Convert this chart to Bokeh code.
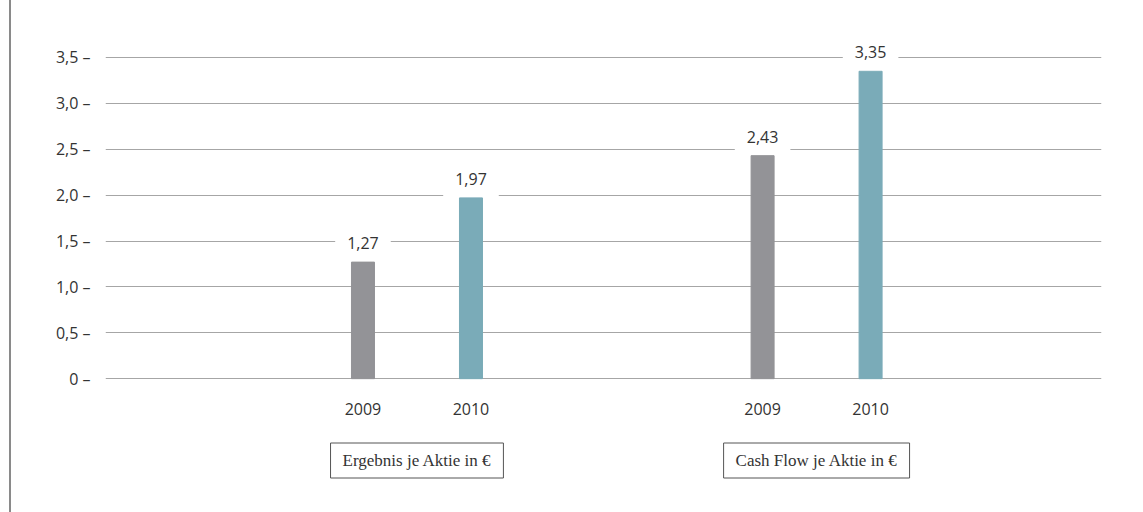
from bokeh.plotting import figure
from bokeh.models import ColumnDataSource, Range1d, FixedTicker, Label, Div
from bokeh.layouts import row, column
from bokeh.embed import file_html
from bokeh.resources import INLINE
from bokeh.core.properties import value

# ---- data ----
groups = ["Ergebnis je Aktie in €", "Cash Flow je Aktie in €"]
years = ["2009", "2010"]
ergebnis = [1.27, 1.97]
cash_flow = [2.43, 3.35]
ergebnis_labels = ["1,27", "1,97"]
cash_flow_labels = ["2,43", "3,35"]
y_ticks = [0, 0.5, 1.0, 1.5, 2.0, 2.5, 3.0, 3.5]
y_tick_labels = ["0", "0,5", "1,0", "1,5", "2,0", "2,5", "3,0", "3,5"]
year_colors = ["#939397", "#7aabb8"]

# ---- layout helpers ----
GROUP_STEP = 3.7
group_centers = [gi * GROUP_STEP for gi in range(len(groups))]
series = [ergebnis, cash_flow]
series_labels = [ergebnis_labels, cash_flow_labels]

xs, tops, colors, texts, tick_names = [], [], [], [], {}
for gi, vals in enumerate(series):
    for yi, v in enumerate(vals):
        x = group_centers[gi] + (yi - 0.5)
        xs.append(x)
        tops.append(v)
        colors.append(year_colors[yi])
        texts.append(series_labels[gi][yi])
        tick_names[x] = years[yi]

src = ColumnDataSource(dict(x=xs, top=tops, color=colors, text=texts))

FONT = "Open Sans"
W = 1132

p = figure(width=W, height=430, output_backend="svg", toolbar_location=None,
           x_range=Range1d(-2.884, GROUP_STEP + 2.638),
           y_range=Range1d(-0.02, 3.794),
           min_border_left=94, min_border_right=42, min_border_top=30,
           min_border_bottom=50, margin=(0, 0, 0, 0))
p.outline_line_color = None
p.background_fill_color = "white"
p.border_fill_color = "white"

p.vbar(x="x", top="top", bottom=0, width=0.213, color="color", source=src)

p.text(x="x", y="top", text="text", source=src, y_offset=-19,
       text_align="center", text_baseline="middle",
       text_font=value(FONT), text_font_size="16px", text_color="#333333",
       background_fill_color="white", padding=12)

# y axis
p.yaxis.ticker = FixedTicker(ticks=y_ticks)
p.yaxis.major_label_overrides = {t: lab + " –" for t, lab in zip(y_ticks, y_tick_labels)}
p.yaxis.axis_line_color = None
p.yaxis.major_tick_line_color = None
p.yaxis.minor_tick_line_color = None
p.yaxis.major_label_standoff = 9
p.yaxis.major_label_text_font = FONT
p.yaxis.major_label_text_font_size = "16px"
p.yaxis.major_label_text_color = "#333333"

p.ygrid.ticker = FixedTicker(ticks=y_ticks)
p.ygrid.grid_line_color = "#a6a6a6"
p.ygrid.grid_line_width = 1
p.xgrid.grid_line_color = None

# x axis (years)
p.xaxis.ticker = FixedTicker(ticks=xs)
p.xaxis.major_label_overrides = tick_names
p.xaxis.axis_line_color = None
p.xaxis.major_tick_line_color = None
p.xaxis.minor_tick_line_color = None
p.xaxis.major_label_standoff = 16
p.xaxis.major_label_text_font = FONT
p.xaxis.major_label_text_font_size = "16px"
p.xaxis.major_label_text_color = "#333333"

# strip below with boxed group names, sharing the x scale
p2 = figure(width=W, height=82, output_backend="svg", toolbar_location=None,
            x_range=p.x_range, y_range=Range1d(0, 1),
            x_axis_location=None, y_axis_location=None,
            min_border_left=94, min_border_right=42, min_border_top=0,
            min_border_bottom=0, margin=(0, 0, 0, 0))
p2.outline_line_color = None
p2.grid.visible = False
p2.border_fill_color = "white"

for gi, name in enumerate(groups):
    p2.add_layout(Label(x=group_centers[gi], y=52, y_units="screen", text=name,
                        text_align="center", text_baseline="middle",
                        text_font="Liberation Serif", text_font_size="17px",
                        text_color="#333333",
                        background_fill_color="white",
                        border_line_color="#555555", border_line_width=1,
                        padding=dict(left=12, right=12, top=8, bottom=8)))

edge = Div(width=9, height=512, margin=(0, 0, 0, 0),
           styles={"border-right": "2px solid #8a8a8a",
                   "box-sizing": "content-box", "padding": "0"})
layout = row(edge, column(p, p2, spacing=0), spacing=0)

open("out.html", "w").write(file_html(layout, INLINE))
